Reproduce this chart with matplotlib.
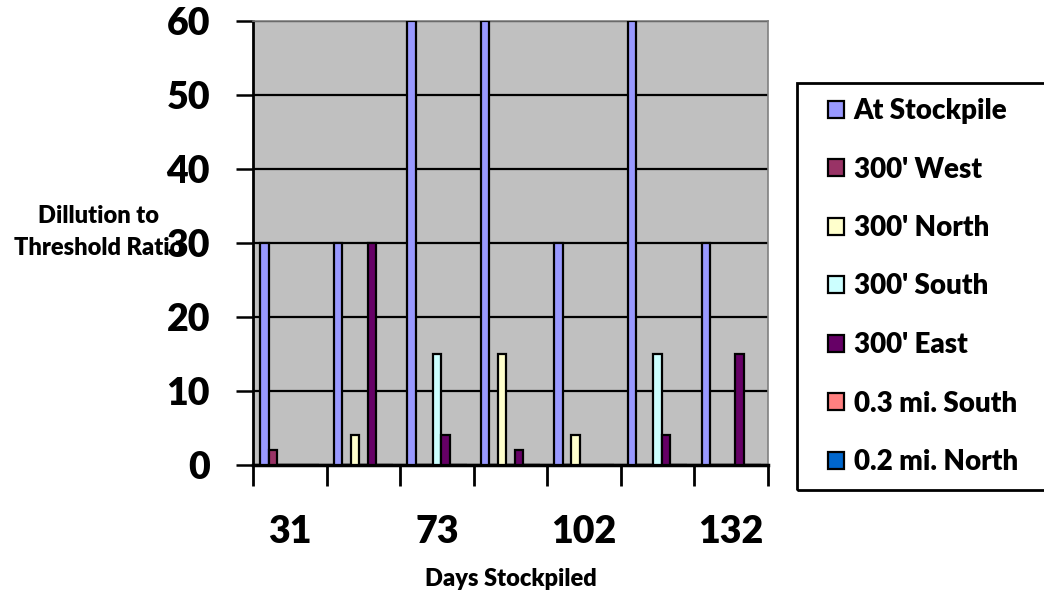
import matplotlib
matplotlib.use("Agg")
import matplotlib.pyplot as plt
from matplotlib.patches import Rectangle
import numpy as np

# ---- data ----
categories = ["31", "", "73", "", "102", "", "132"]
series_names = ["At Stockpile", "300' West", "300' North", "300' South",
                "300' East", "0.3 mi. South", "0.2 mi. North"]
at_stockpile = [30, 30, 60, 60, 30, 60, 30]
west_300 = [2, 0, 0, 0, 0, 0, 0]
north_300 = [0, 4, 0, 15, 4, 0, 0]
south_300 = [0, 0, 15, 0, 0, 15, 0]
east_300 = [0, 30, 4, 2, 0, 4, 15]
south_03mi = [0, 0, 0, 0, 0, 0, 0]
north_02mi = [0, 0, 0, 0, 0, 0, 0]
y_ticks = [0, 10, 20, 30, 40, 50, 60]

series = [at_stockpile, west_300, north_300, south_300, east_300, south_03mi, north_02mi]
colors = ["#9999FF", "#993366", "#FFFFCC", "#CCFFFF", "#660066", "#FF8080", "#0066CC"]

FONT = ["Lato", "DejaVu Sans"]
plt.rcParams["font.family"] = FONT
plt.rcParams["font.weight"] = "bold"

W, H = 1044, 596
fig = plt.figure(figsize=(W / 100, H / 100), dpi=100)
ax = fig.add_axes([253 / W, 1 - 465 / H, (768 - 253) / W, (465 - 21) / H])
ax.set_facecolor("#C0C0C0")

x = np.arange(len(categories))
bw = 0.115
for j, (vals, col, name) in enumerate(zip(series, colors, series_names)):
    ax.bar(x + (j - 3) * bw, vals, width=bw, color=col, edgecolor="black",
           linewidth=1.6, label=name, zorder=3)

ax.set_xlim(-0.5, len(categories) - 0.5)
ax.set_ylim(0, 60)
ax.set_yticks(y_ticks)
ax.set_yticklabels([str(v) for v in y_ticks], fontsize=27, fontweight="heavy")
ax.yaxis.grid(True, color="black", linewidth=1.6, zorder=1)
ax.set_axisbelow(True)

ax.set_xticks(x)
ax.set_xticklabels(categories, fontsize=27, fontweight="heavy")
ax.set_xticks(np.arange(-0.5, len(categories), 1.0), minor=True)
ax.tick_params(axis="x", which="major", length=0, pad=36)
ax.tick_params(axis="x", which="minor", length=15, width=2, direction="out")
ax.tick_params(axis="y", length=12, width=1.8, direction="out", pad=19)

for s in ["top", "right"]:
    ax.spines[s].set_color("#808080")
    ax.spines[s].set_linewidth(1.2)
ax.spines["left"].set_linewidth(2)
ax.spines["bottom"].set_linewidth(2.5)

ax.set_xlabel("Days Stockpiled", fontsize=17, fontweight="heavy", labelpad=14)
fig.text(99 / W, 1 - 232 / H, "Dillution to\nThreshold Ratio", fontsize=17,
         fontweight="heavy", ha="center", va="center", linespacing=1.6)

# legend frame
fig.patches.append(Rectangle((797 / W, 1 - 490 / H), (1060 - 797) / W, (490 - 83) / H,
                             transform=fig.transFigure, fill=False,
                             edgecolor="black", linewidth=2))
handles, labels = ax.get_legend_handles_labels()
fig.legend(handles, labels, loc="upper left",
           bbox_to_anchor=(828 / W, 1 - 98 / H), frameon=False,
           borderpad=0, borderaxespad=0,
           handlelength=0.57, handleheight=0.57, handletextpad=0.35,
           labelspacing=1.17, prop={"family": FONT, "weight": "heavy", "size": 20})

fig.savefig("out.png", dpi=100)
